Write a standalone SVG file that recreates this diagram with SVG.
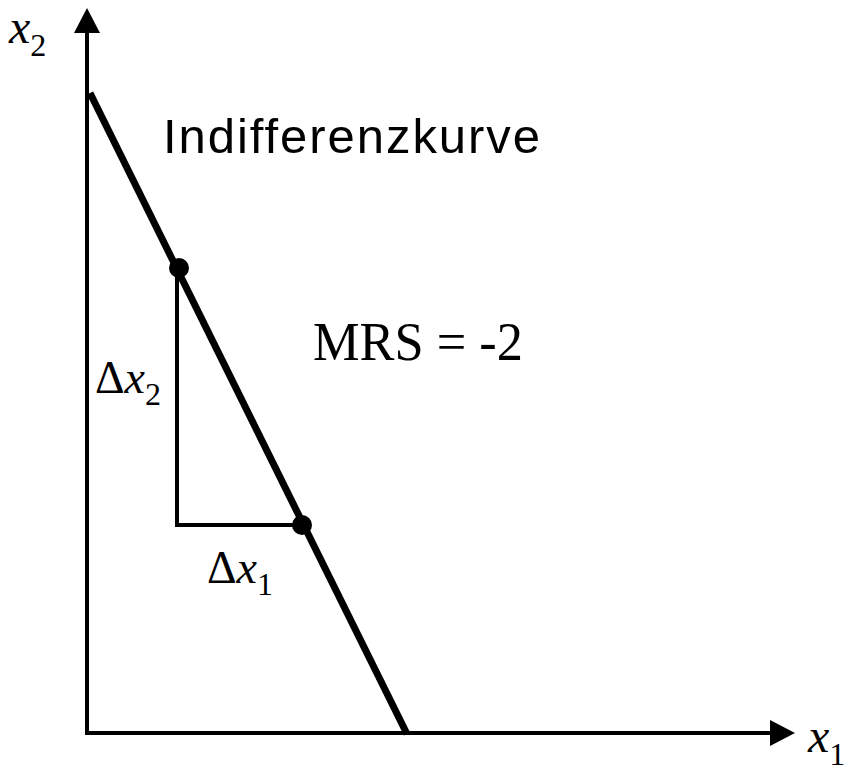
<svg xmlns="http://www.w3.org/2000/svg" width="865" height="772" viewBox="0 0 865 772">
<style>
.ax{stroke:#000;stroke-width:4;fill:none}
.thin{stroke:#000;stroke-width:4;fill:none}
.curve{stroke:#000;stroke-width:7;fill:none}
.t{font-family:"Liberation Serif","Times New Roman",serif;fill:#000}
.i{font-style:italic}
.s{font-family:"Liberation Sans",Arial,sans-serif;fill:#000}
</style>
<g id="connectors">
<path class="ax" d="M87,734 L87,33"/>
<path d="M87,8 L74,33 L100,33 Z" fill="#000"/>
<path class="ax" d="M85,733 L770,733"/>
<path d="M795,733 L770,720 L770,746 Z" fill="#000"/>
<path class="thin" d="M177,268 L177,525 L302,525"/>
</g>
<g id="indifferenzkurve">
<path class="curve" d="M90,93 L407,734"/>
</g>
<g id="point-a"><circle cx="179" cy="268" r="10" fill="#000"/></g>
<g id="point-b"><circle cx="302" cy="525" r="10" fill="#000"/></g>
<g id="labels">
<text class="t" x="9" y="43" font-size="48"><tspan class="i">x</tspan><tspan font-size="32" dy="13">2</tspan></text>
<text class="t" x="808" y="752" font-size="48"><tspan class="i">x</tspan><tspan font-size="32" dy="13">1</tspan></text>
<text class="s" x="163" y="153" font-size="49" textLength="377" lengthAdjust="spacing">Indifferenzkurve</text>
<text class="t" x="313" y="360" font-size="54" textLength="210" lengthAdjust="spacingAndGlyphs">MRS = -2</text>
<text class="t" x="95" y="393" font-size="46">Δ<tspan class="i">x</tspan><tspan font-size="32" dy="12">2</tspan></text>
<text class="t" x="207" y="583" font-size="46">Δ<tspan class="i">x</tspan><tspan font-size="32" dy="12">1</tspan></text>
</g>
</svg>
